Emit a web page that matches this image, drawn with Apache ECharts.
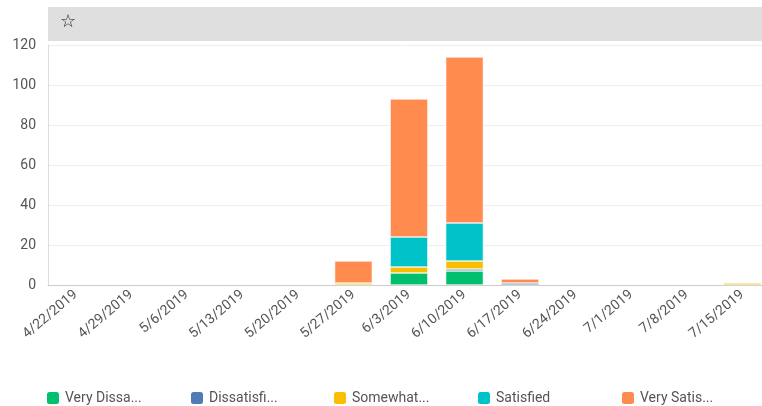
<!DOCTYPE html>
<html>
<head>
<meta charset="utf-8">
<script src="https://cdn.jsdelivr.net/npm/echarts@6/dist/echarts.min.js"></script>
<style>
  html, body { margin: 0; padding: 0; background: #fff; }
  #main { width: 762px; height: 406px; }
</style>
</head>
<body>
<div id="main"></div>
<script>
var weeks = ['4/22/2019', '4/29/2019', '5/6/2019', '5/13/2019', '5/20/2019', '5/27/2019', '6/3/2019',
             '6/10/2019', '6/17/2019', '6/24/2019', '7/1/2019', '7/8/2019', '7/15/2019'];
var seriesNames = ['Very Dissatisfied', 'Dissatisfied', 'Somewhat Satisfied', 'Satisfied', 'Very Satisfied'];
var legendLabels = ['Very Dissa...', 'Dissatisfi...', 'Somewhat...', 'Satisfied', 'Very Satis...'];
var colors = ['#00bf6f', '#507cb6', '#f9be00', '#00c3c9', '#ff8b4f'];

var veryDissatisfied   = [0, 0, 0, 0, 0, 0, 6, 7, 0, 0, 0, 0, 0];
var dissatisfied       = [0, 0, 0, 0, 0, 0, 0, 1, 1, 0, 0, 0, 0];
var somewhatSatisfied  = [0, 0, 0, 0, 0, 1, 3, 4, 0, 0, 0, 0, 1];
var satisfied          = [0, 0, 0, 0, 0, 0, 15, 19, 0, 0, 0, 0, 0];
var verySatisfied      = [0, 0, 0, 0, 0, 11, 69, 83, 2, 0, 0, 0, 0];
var values = [veryDissatisfied, dissatisfied, somewhatSatisfied, satisfied, verySatisfied];

var legendLeft = [45, 189, 332, 476, 620];

var chart = echarts.init(document.getElementById('main'));
var font = 'Roboto, "Open Sans", sans-serif';

var option = {
    animation: false,
    textStyle: { fontFamily: font },
    color: colors,
    graphic: [
        { type: 'rect', left: 48, top: 7, shape: { width: 714, height: 34 }, style: { fill: '#dfdfdf' }, silent: true },
        { type: 'text', left: 60, top: 13, style: { text: '☆', fontSize: 18, fill: '#222', fontFamily: 'DejaVu Sans' } }
    ],
    legend: seriesNames.map(function (n, i) {
        return {
            data: [n],
            left: legendLeft[i],
            top: 390,
            padding: 0,
            icon: 'roundRect',
            itemWidth: 14,
            itemHeight: 14,
            itemGap: 6,
            selectedMode: false,
            formatter: function () { return legendLabels[i]; },
            textStyle: { fontSize: 14, color: '#555', fontFamily: font }
        };
    }),
    grid: { left: 48, right: -8, top: 45, bottom: 121, outerBoundsMode: 'none' },
    xAxis: {
        type: 'category',
        data: weeks,
        axisTick: { show: false },
        axisLine: { lineStyle: { color: '#cccccc' } },
        axisLabel: { rotate: 40, color: '#555', fontSize: 14, margin: 8, interval: 0 }
    },
    yAxis: {
        type: 'value',
        min: 0, max: 120, interval: 20,
        axisLine: { show: true, lineStyle: { color: '#dddddd' } },
        splitLine: { lineStyle: { color: '#eeeeee' } },
        axisLabel: { color: '#555', fontSize: 14, margin: 12 }
    },
    series: seriesNames.map(function (n, i) {
        return {
            name: n,
            type: 'bar',
            stack: 'total',
            barWidth: '68%',
            data: values[i].map(function (v) { return v === 0 ? '-' : v; }),
            itemStyle: { borderColor: '#fff', borderWidth: 0.6 }
        };
    })
};
chart.setOption(option);
</script>
</body>
</html>
